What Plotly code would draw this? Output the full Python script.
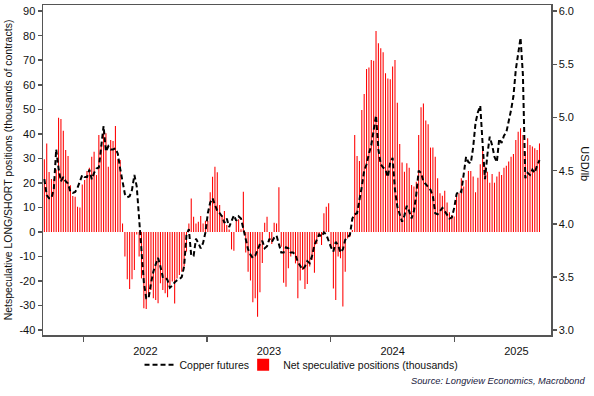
import pandas as pd
import plotly.graph_objects as go

# Weekly net speculative positions (thousands of contracts)
net_positions = [
    29.6, 36.1, 24.4, 21.6, 21.5, 25.5, 46.6, 46.0, 41.3, 33.4,
    31.0, 19.0, 14.7, 14.4, 10.3, 10.0, 19.4, 21.2, 24.9, 26.2,
    30.7, 32.7, 23.2, 39.5, 35.5, 40.9, 40.2, 26.6, 37.5, 37.1,
    43.2, 29.6, 29.3, 3.5, -10.0, -19.3, -23.2, -19.3, -15.5, -1.0,
    -10.0, -18.9, -31.1, -31.4, -26.6, -23.6, -27.0, -27.7, -29.0, -20.9,
    -23.6, -25.0, -26.6, -21.6, -20.2, -29.1, -18.9, -17.5, -16.2, -14.1,
    -8.0, 3.5, 13.7, 6.2, 3.5, 4.2, 6.5, 3.5, 4.6, 4.6,
    16.2, 22.5, 26.6, 24.3, 11.0, 6.9, 8.6, 2.9, 1.0, -7.1,
    -7.6, 4.9, 5.2, 1.1, 16.4, -8.4, -16.2, -19.8, -28.6, -27.0,
    -34.5, -24.6, -12.6, 3.8, 6.2, -3.9, -4.9, 3.8, 3.5, 18.2,
    -6.0, -20.7, -22.3, -14.8, -10.0, -8.7, -12.8, -27.0, -19.8, -15.5,
    -23.2, -21.2, -14.1, -11.4, -16.6, -4.9, -1.9, -5.3, 7.6, 10.3,
    11.7, -6.0, -23.0, -27.7, -10.0, -10.7, -30.4, -16.2, -2.6, -1.9,
    0.8, 39.5, 31.0, 28.9, 49.7, 56.2, 66.4, 67.0, 70.1, 69.8,
    81.9, 76.9, 74.9, 73.2, 64.7, 62.6, 62.2, 67.4, 70.1, 52.7,
    35.9, 28.3, 24.6, 28.0, 26.2, 19.2, 18.5, 20.5, 39.5, 50.8,
    52.4, 45.4, 43.9, 34.4, 34.4, 30.7, 21.9, 15.8, 14.8, 16.8,
    12.0, 8.0, 6.9, 6.3, 14.4, 15.8, 21.9, 18.5, 21.2, 24.9,
    24.9, 22.6, 16.2, 22.1, 27.6, 34.8, 26.6, 24.6, 20.1, 23.6,
    20.1, 22.6, 24.6, 23.2, 26.2, 27.0, 28.7, 30.7, 31.8, 37.5,
    40.9, 42.3, 39.5, 32.7, 38.2, 35.5, 34.8, 34.1, 33.4, 36.1,
]

# Weekly copper futures price (USD/lb)
copper = [
    4.42, 4.27, 4.24, 4.24, 4.33, 4.70, 4.52, 4.40, 4.44, 4.40,
    4.38, 4.30, 4.29, 4.30, 4.34, 4.41, 4.46, 4.44, 4.44, 4.51,
    4.42, 4.48, 4.52, 4.53, 4.70, 4.92, 4.68, 4.73, 4.70, 4.70,
    4.71, 4.66, 4.52, 4.38, 4.28, 4.25, 4.26, 4.32, 4.46, 4.35,
    4.05, 3.70, 3.45, 3.30, 3.30, 3.44, 3.55, 3.62, 3.68, 3.60,
    3.50, 3.50, 3.47, 3.40, 3.42, 3.45, 3.47, 3.48, 3.50, 3.60,
    3.90, 3.95, 3.70, 3.70, 3.86, 3.82, 3.77, 3.82, 3.92, 4.10,
    4.20, 4.24, 4.18, 4.12, 4.10, 4.07, 4.01, 4.05, 3.97, 4.03,
    4.08, 4.03, 4.07, 4.05, 3.95, 3.87, 3.76, 3.71, 3.68, 3.70,
    3.76, 3.81, 3.84, 3.77, 3.79, 3.86, 3.83, 3.87, 3.89, 3.80,
    3.73, 3.73, 3.78, 3.77, 3.73, 3.73, 3.71, 3.64, 3.60, 3.57,
    3.60, 3.65, 3.63, 3.70, 3.80, 3.86, 3.90, 3.88, 3.92, 3.90,
    3.84, 3.78, 3.74, 3.83, 3.80, 3.73, 3.76, 3.85, 3.87, 3.90,
    4.05, 4.09, 4.10, 4.22, 4.35, 4.50, 4.56, 4.66, 4.74, 4.88,
    5.02, 4.70, 4.56, 4.53, 4.51, 4.44, 4.58, 4.62, 4.32, 4.16,
    4.10, 4.02, 4.08, 4.17, 4.12, 4.05, 4.12, 4.28, 4.50, 4.48,
    4.40, 4.37, 4.35, 4.32, 4.26, 4.10, 4.09, 4.12, 4.15, 4.12,
    4.08, 4.05, 4.06, 4.15, 4.28, 4.31, 4.30, 4.48, 4.63, 4.58,
    4.57, 4.72, 4.95, 5.05, 5.11, 4.75, 4.42, 4.65, 4.82, 4.74,
    4.63, 4.58, 4.80, 4.76, 4.83, 4.86, 4.96, 5.07, 5.20, 5.45,
    5.60, 5.75, 5.40, 4.43, 4.48, 4.46, 4.51, 4.48, 4.55, 4.60,
]

start_date = "2021-09-07"
dates = pd.date_range(start_date, periods=len(net_positions), freq="7D")

left_ticks = [-40, -30, -20, -10, 0, 10, 20, 30, 40, 50, 60, 70, 80, 90]
left_tick_text = ["-40", "-30", "-20", "-10", "0", "10", "20", "30", "40", "50", "60", "70", "80", "90"]
right_ticks = [3.0, 3.5, 4.0, 4.5, 5.0, 5.5, 6.0]
right_tick_text = ["3.0", "3.5", "4.0", "4.5", "5.0", "5.5", "6.0"]

FONT = "Liberation Sans, Arial, sans-serif"
AXIS_COL = "#555555"

fig = go.Figure()
fig.add_trace(go.Scatter(
    x=dates, y=copper, name="Copper futures", mode="lines",
    line=dict(color="black", width=2, dash="5px,3px"), yaxis="y2",
    legend="legend",
))
fig.add_trace(go.Bar(
    x=dates, y=net_positions, name="Net speculative positions (thousands)",
    marker=dict(color="#ff0000", line=dict(width=0)), yaxis="y",
    legend="legend2",
))

x0 = pd.Timestamp(start_date) - pd.Timedelta(days=4)
x1 = pd.Timestamp(start_date) + pd.Timedelta(days=1497)

legend_common = dict(orientation="h", yanchor="middle", y=-0.09, xanchor="left",
                     font=dict(size=10.5, color="#111111"), itemwidth=30,
                     bgcolor="rgba(0,0,0,0)")

fig.update_layout(
    width=594, height=396,
    margin=dict(l=43, r=43, t=5, b=61, autoexpand=False),
    paper_bgcolor="white", plot_bgcolor="white",
    font=dict(family=FONT, size=11, color="#111111"),
    bargap=0.55,
    showlegend=True,
    legend=dict(x=0.19, **legend_common),
    legend2=dict(x=0.394, **legend_common),
    xaxis=dict(
        type="date", range=[x0, x1], automargin=False,
        dtick="M12", tick0="2022-01-01", tickformat="%Y", ticklabelmode="period",
        ticks="outside", ticklen=5, tickcolor=AXIS_COL, tickwidth=1.5,
        showline=True, linecolor=AXIS_COL, linewidth=1.5, mirror=True,
        showgrid=False, zeroline=False,
        tickfont=dict(size=11, color="#111111"),
    ),
    yaxis=dict(
        range=[-41.97, 92.5], tickvals=left_ticks, ticktext=left_tick_text,
        automargin=False,
        ticks="outside", ticklen=4, tickcolor=AXIS_COL, tickwidth=1.5,
        showline=True, linecolor=AXIS_COL, linewidth=1.5,
        showgrid=False, zeroline=False,
        tickfont=dict(size=11, color="#111111"),
        title=dict(text="Netspeculative LONG/SHORT positions (thousands of contracts)",
                   font=dict(size=10.5, color="#111111"), standoff=4),
    ),
    yaxis2=dict(
        range=[2.955, 6.058], tickvals=right_ticks, ticktext=right_tick_text,
        overlaying="y", side="right", automargin=False,
        ticks="outside", ticklen=4, tickcolor=AXIS_COL, tickwidth=1.5,
        showline=True, linecolor=AXIS_COL, linewidth=1.5,
        showgrid=False, zeroline=False,
        tickfont=dict(size=11, color="#111111"),
    ),
    annotations=[
        dict(text="USD/lb", textangle=90, xref="paper", yref="paper",
             x=1.067, y=0.52, xanchor="center", yanchor="middle",
             showarrow=False, font=dict(size=11, color="#111111")),
        dict(text="<i>Source: Longview Economics, Macrobond</i>", xref="paper", yref="paper",
             x=1.07, y=-0.139, xanchor="right", yanchor="middle",
             showarrow=False, font=dict(size=9.3, color="#1a1a40")),
    ],
)

fig.write_html(
    "out.html",
    config={"staticPlot": True},
    post_script="document.body.style.margin='0';document.body.style.overflow='hidden';",
)
